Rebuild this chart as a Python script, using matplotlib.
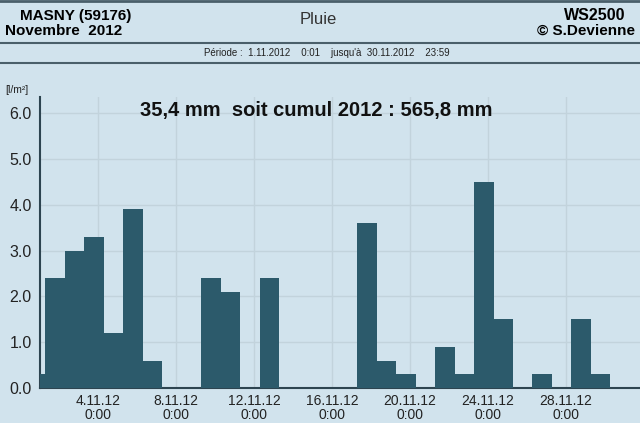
import numpy as np
import matplotlib.pyplot as plt
from matplotlib.lines import Line2D

# Pluie journaliere Novembre 2012 (mm)
debut = [0.0]
debut_val = [0.3]
jours = np.arange(30)
pluie = [2.4, 3.0, 3.3, 1.2, 3.9, 0.6, 0.0, 0.0, 2.4, 2.1,
         0.0, 2.4, 0.0, 0.0, 0.0, 0.0, 3.6, 0.6, 0.3, 0.0,
         0.9, 0.3, 4.5, 1.5, 0.0, 0.3, 0.0, 1.5, 0.3, 0.0]
ticks_pos = [3, 7, 11, 15, 19, 23, 27]
ticks_lab = ['4.11.12\n0:00', '8.11.12\n0:00', '12.11.12\n0:00', '16.11.12\n0:00',
             '20.11.12\n0:00', '24.11.12\n0:00', '28.11.12\n0:00']

fond = '#d1e3ed'
barre = '#2c5a6b'
plt.rcParams['font.family'] = ['Liberation Sans', 'DejaVu Sans']

fig = plt.figure(figsize=(6.4, 4.23), dpi=100, facecolor=fond)
ax = fig.add_axes([40 / 640, 1 - 388 / 423, 600 / 640, 291 / 423])
ax.set_facecolor(fond)

decal = 0.28
ax.bar(jours + decal, pluie, width=1.0, align='edge', color=barre, zorder=3)
ax.bar(debut, debut_val, width=decal, align='edge', color=barre, zorder=3)

ax.set_xlim(0, 30.8)
ax.set_ylim(0, 6.35)
ax.set_yticks(np.arange(0, 6.1, 1.0))
ax.set_yticklabels(['%.1f' % v for v in np.arange(0, 6.1, 1.0)], fontsize=11.5, color='#222222')
ax.set_xticks(ticks_pos)
ax.set_xticklabels(ticks_lab, fontsize=10, color='#222222', linespacing=1.0)
ax.tick_params(axis='y', length=0, pad=6)
ax.tick_params(axis='x', length=0, pad=4)
ax.grid(True, color='#c2d3dc', linewidth=1.0, zorder=0)
for s in ['top', 'right']:
    ax.spines[s].set_visible(False)
for s in ['left', 'bottom']:
    ax.spines[s].set_color('#2d4450')
    ax.spines[s].set_linewidth(1.5)

ax.text(0.46, 0.985, '35,4 mm  soit cumul 2012 : 565,8 mm', transform=ax.transAxes,
        ha='center', va='top', fontsize=14.5, fontweight='bold', color='#111111')

# en-tete
fig.text(5 / 640, 1 - 90 / 423, '[l/m²]', fontsize=7.5, color='#222222', va='center')
fig.text(20 / 640, 1 - 16 / 423, 'MASNY (59176)', fontsize=11, fontweight='bold', va='center')
fig.text(5 / 640, 1 - 31 / 423, 'Novembre  2012', fontsize=11, fontweight='bold', va='center')
fig.text(318 / 640, 1 - 19 / 423, 'Pluie', fontsize=12, color='#333333', ha='center', va='center')
fig.text(625 / 640, 1 - 16 / 423, 'WS2500', fontsize=11.5, fontweight='bold', ha='right', va='center')
fig.text(635 / 640, 1 - 31 / 423, '© S.Devienne', fontsize=11, fontweight='bold', ha='right', va='center')
fig.text(327 / 640, 1 - 53 / 423, 'Période :  1.11.2012    0:01    jusqu\'à  30.11.2012    23:59',
         fontsize=7, color='#222222', ha='center', va='center')

for y, lw in [(1, 2.0), (43, 1.5), (63, 1.5)]:
    fig.add_artist(Line2D([0, 1], [1 - y / 423, 1 - y / 423], transform=fig.transFigure,
                          color='#4a5f6a', linewidth=lw))

fig.savefig('out.png', dpi=100, facecolor=fond)
